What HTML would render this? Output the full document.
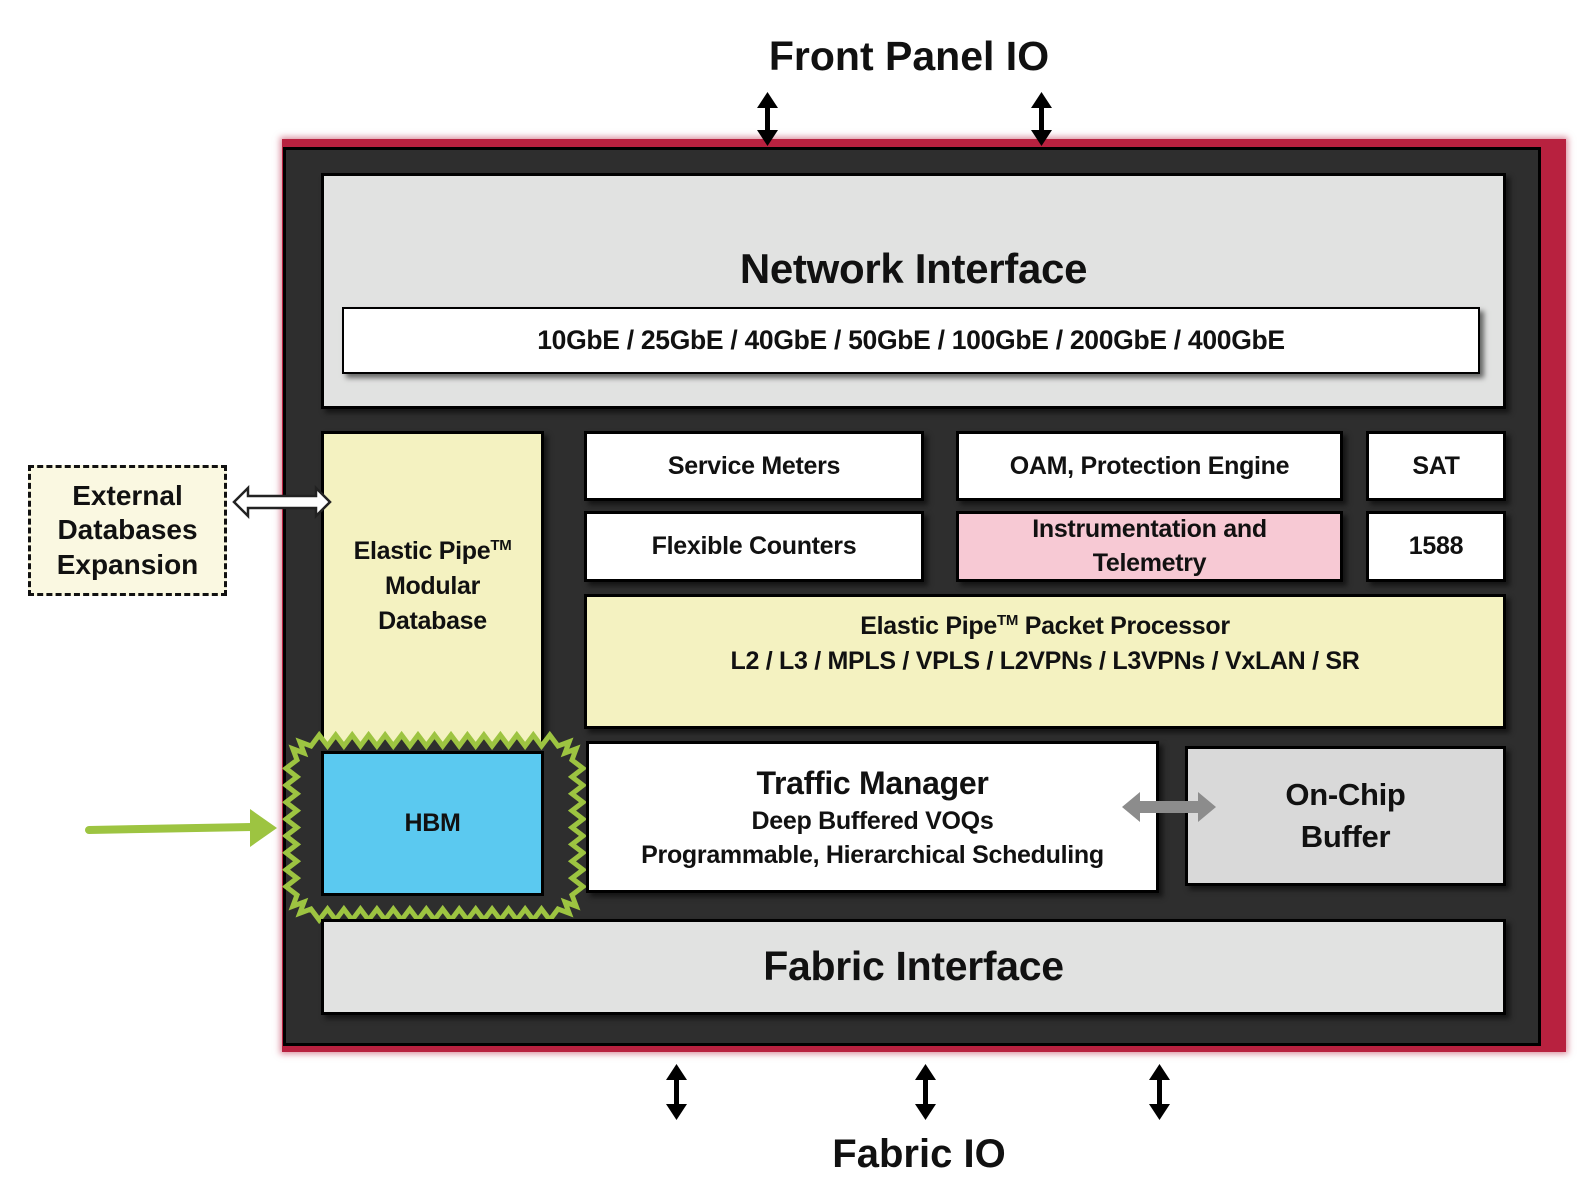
<!DOCTYPE html>
<html><head><meta charset="utf-8"><style>
body{margin:0;width:1592px;height:1196px;background:#fff;position:relative;overflow:hidden;font-family:"Liberation Sans",sans-serif;font-weight:bold;color:#111}
.a{position:absolute;box-sizing:border-box}
.b{position:absolute;box-sizing:border-box;border:3px solid #000;display:flex;align-items:center;justify-content:center;text-align:center;flex-direction:column;box-shadow:4px 4px 5px rgba(0,0,0,.55);font-size:25px;line-height:1.4;letter-spacing:-0.3px}
sup{font-size:60%;line-height:0;vertical-align:0.6em}
</style></head><body>
<div class="a" style="left:282px;top:139px;width:1284px;height:913px;background:#b8213f;box-shadow:0 0 6px 2px rgba(184,33,63,.5)"></div>
<div class="a" style="left:283px;top:147px;width:1258px;height:899px;background:#2e2e2e;border:3px solid #000"></div>

<div class="b" style="left:321px;top:173px;width:1185px;height:236px;background:#e1e2e1;justify-content:flex-start">
 <div style="font-size:42px;margin-top:64px">Network Interface</div></div>
<div class="b" style="left:342px;top:307px;width:1138px;height:67px;background:#fff;border-width:2px;font-size:26.5px"><div>10GbE / 25GbE / 40GbE / 50GbE / 100GbE / 200GbE / 400GbE</div></div>

<div class="b" style="left:321px;top:431px;width:223px;height:320px;background:#f4f2c1;padding-bottom:10px;line-height:1.4"><div>Elastic Pipe<sup>TM</sup><br>Modular<br>Database</div></div>
<div class="b" style="left:584px;top:431px;width:340px;height:70px;background:#fff"><div>Service Meters</div></div>
<div class="b" style="left:584px;top:511px;width:340px;height:71px;background:#fff"><div>Flexible Counters</div></div>
<div class="b" style="left:956px;top:431px;width:387px;height:70px;background:#fff"><div>OAM, Protection Engine</div></div>
<div class="b" style="left:956px;top:511px;width:387px;height:71px;background:#f7c9d4;line-height:1.35"><div>Instrumentation and<br>Telemetry</div></div>
<div class="b" style="left:1366px;top:431px;width:140px;height:70px;background:#fff"><div>SAT</div></div>
<div class="b" style="left:1366px;top:511px;width:140px;height:71px;background:#fff"><div>1588</div></div>
<div class="b" style="left:584px;top:594px;width:922px;height:135px;background:#f4f2c1;justify-content:flex-start;padding-top:12px;line-height:1.4"><div>Elastic Pipe<sup>TM</sup> Packet Processor<br>L2 / L3 / MPLS / VPLS / L2VPNs / L3VPNs / VxLAN / SR</div></div>

<svg class="a" style="left:0;top:0" width="1592" height="1196">
 <polygon id="zz" fill="#2e2e2e" stroke="#9dc441" stroke-width="5" stroke-linejoin="miter"></polygon>
</svg>
<div class="b" style="left:321px;top:751px;width:223px;height:145px;background:#5bc9f0;box-shadow:none"><div>HBM</div></div>
<div class="b" style="left:586px;top:741px;width:573px;height:152px;background:#fff;line-height:1.35"><div style="font-size:32px">Traffic Manager</div><div>Deep Buffered VOQs<br>Programmable, Hierarchical Scheduling</div></div>
<div class="b" style="left:1185px;top:746px;width:321px;height:140px;background:#d9d9d9;font-size:31px;line-height:1.35"><div>On-Chip<br>Buffer</div></div>
<div class="b" style="left:321px;top:919px;width:1185px;height:96px;background:#e1e2e1;font-size:41px"><div>Fabric Interface</div></div>

<div class="a" style="left:28px;top:465px;width:199px;height:131px;background:#faf8e1;border:3px dashed #111;display:flex;align-items:center;justify-content:center;text-align:center;font-size:28px;line-height:1.22">External<br>Databases<br>Expansion</div>

<div class="a" style="left:0;top:33px;width:1818px;text-align:center;font-size:41px">Front Panel IO</div>
<div class="a" style="left:0;top:1132px;width:1838px;text-align:center;font-size:40px">Fabric IO</div>

<svg class="a" style="left:0;top:0" width="1592" height="1196">
 <g fill="#000">
  <g><rect x="765" y="100" width="5" height="40"/><path d="M757,108 L767.5,92 L778,108 Z M757,130 L767.5,146 L778,130 Z"/></g>
  <g><rect x="1039" y="100" width="5" height="40"/><path d="M1031,108 L1041.5,92 L1052,108 Z M1031,130 L1041.5,146 L1052,130 Z"/></g>
  <g><rect x="674" y="1071" width="5" height="42"/><path d="M666,1080 L676.5,1064 L687,1080 Z M666,1104 L676.5,1120 L687,1104 Z"/></g>
  <g><rect x="923" y="1071" width="5" height="42"/><path d="M915,1080 L925.5,1064 L936,1080 Z M915,1104 L925.5,1120 L936,1104 Z"/></g>
  <g><rect x="1157" y="1071" width="5" height="42"/><path d="M1149,1080 L1159.5,1064 L1170,1080 Z M1149,1104 L1159.5,1120 L1170,1104 Z"/></g>
 </g>
 <path d="M234,502 L248,488 L248,496 L316,496 L316,488 L330,502 L316,516 L316,508 L248,508 L248,516 Z" fill="#fff" stroke="#222" stroke-width="2.5"/>
 <path d="M1122,807 L1140,792 L1140,801 L1198,801 L1198,792 L1216,807 L1198,822 L1198,813 L1140,813 L1140,822 Z" fill="#8c8c8c"/>
 <path d="M89,830 L252,827" stroke="#9dc441" stroke-width="8" stroke-linecap="round"/>
 <path d="M250,809 L277,828 L250,847 Z" fill="#9dc441"/>
</svg>
<script>
(function(){
 var L=297,T=746,R=572,B=909,A=11,s=16,p=[];
 function edge(x1,y1,x2,y2,nx,ny){var len=Math.hypot(x2-x1,y2-y1),n=Math.max(2,Math.round(len/s)),i;
  for(i=0;i<n;i++){var t=i/n,t2=(i+0.5)/n;p.push([x1+(x2-x1)*t,y1+(y2-y1)*t]);p.push([x1+(x2-x1)*t2+nx*A,y1+(y2-y1)*t2+ny*A]);}}
 var c=14;
 edge(L+c,T,R-c,T,0,-1);edge(R-c,T,R,T+c,.7,-.7);edge(R,T+c,R,B-c,1,0);edge(R,B-c,R-c,B,.7,.7);
 edge(R-c,B,L+c,B,0,1);edge(L+c,B,L,B-c,-.7,.7);edge(L,B-c,L,T+c,-1,0);edge(L,T+c,L+c,T,-.7,-.7);
 document.getElementById('zz').setAttribute('points',p.map(function(q){return q[0].toFixed(1)+','+q[1].toFixed(1)}).join(' '));
})();
</script>
</body></html>
